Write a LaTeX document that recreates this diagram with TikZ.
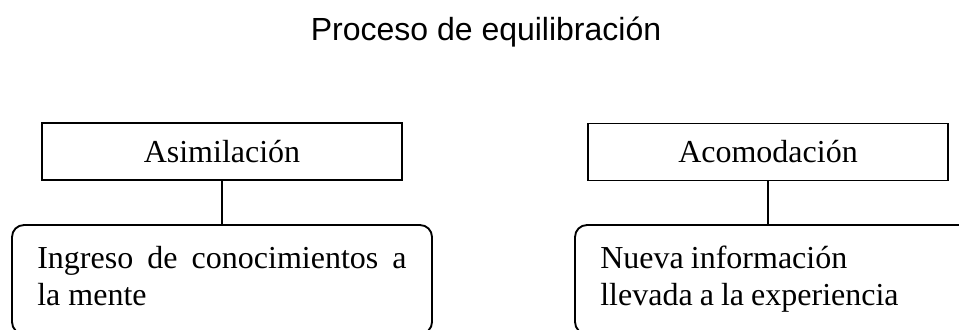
\documentclass[tikz,border=0pt]{standalone}
\usepackage{fontspec}
\setmainfont{Liberation Serif}
\newfontfamily\arialf{Liberation Sans}
\begin{document}
\begin{tikzpicture}[x=0.75pt,y=-0.75pt,
  line width=1.4pt,
  topbox/.style={draw, rectangle, minimum width=270pt, minimum height=42.75pt, inner sep=0pt,
    font=\fontsize{24}{27.75}\selectfont},
  infobox/.style={draw, rectangle, rounded corners=9pt, text width=277pt, inner xsep=19pt, inner ysep=0pt,
    minimum height=81.75pt, align=#1, font=\fontsize{24}{27.75}\selectfont},
  conn/.style={line width=1.4pt}]
\useasboundingbox (0,0) rectangle (959,329);
\clip (0,0) rectangle (959,329);
\node[font=\arialf\fontsize{24}{28}\selectfont, anchor=base] (title) at (486,40) {Proceso de equilibración};
\node[topbox] (asim) at (222,151.5) {Asimilación};
\node[topbox] (acom) at (768,152) {Acomodación};
\node[infobox=justify] (ingr) at (222,279.5) {Ingreso de conocimientos a\linebreak la mente\vphantom{p}};
\node[infobox=left] (nueva) at (785,279.5) {\spaceskip=0.22em Nueva información\\llevada a la experiencia};
\draw[conn] (asim.south) -- (asim.south |- ingr.north);
\draw[conn] (acom.south) -- (acom.south |- nueva.north);
\end{tikzpicture}
\end{document}
